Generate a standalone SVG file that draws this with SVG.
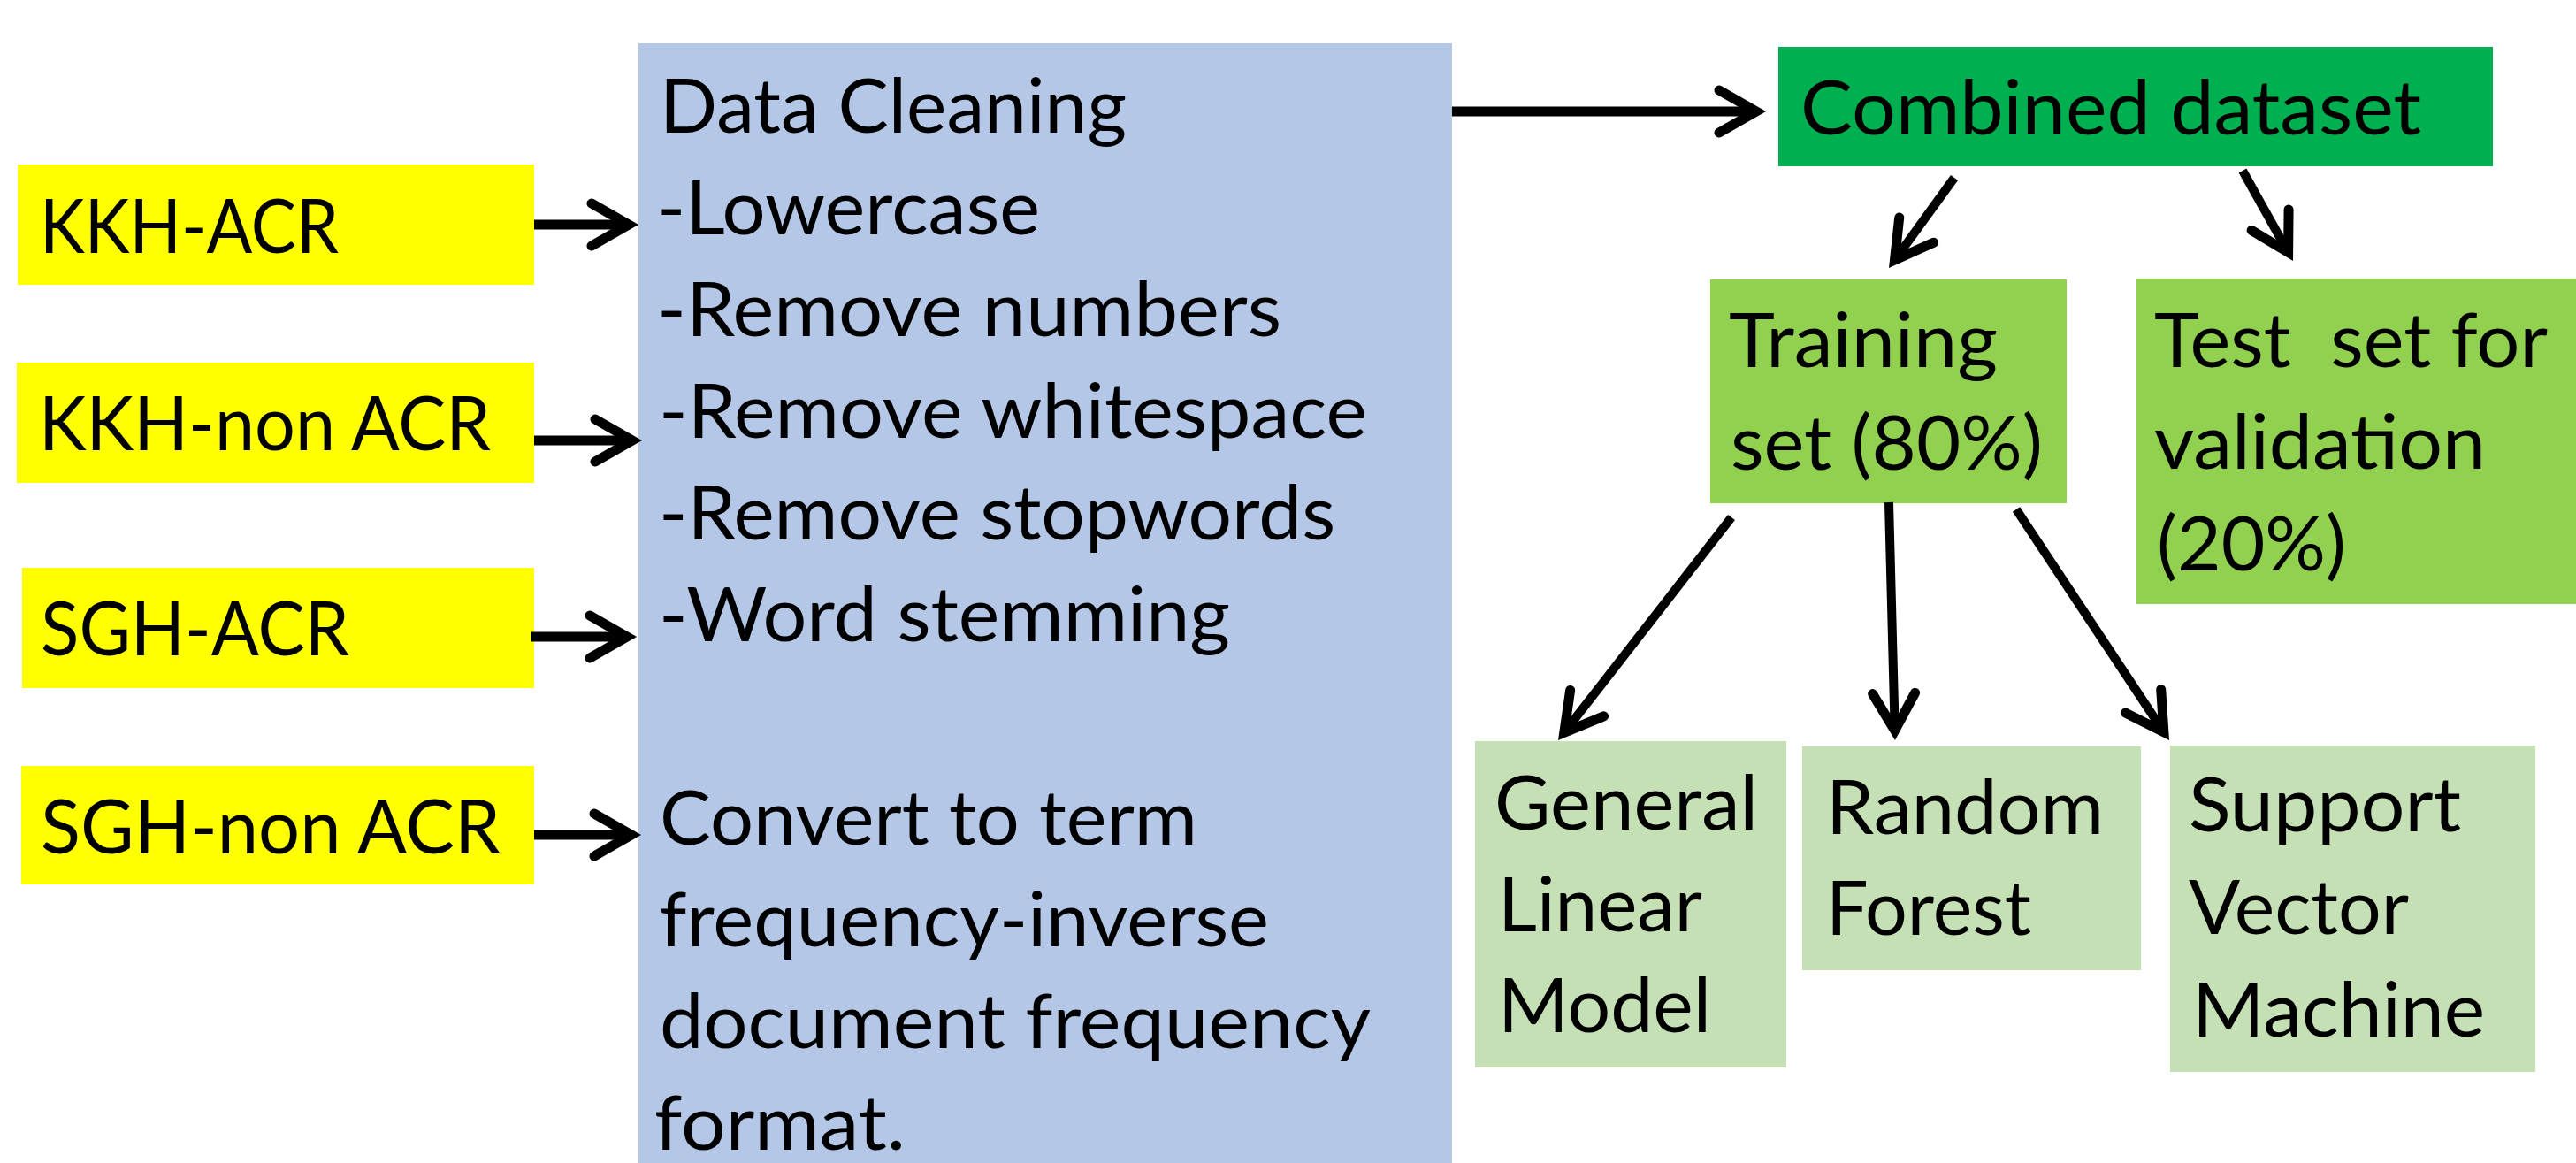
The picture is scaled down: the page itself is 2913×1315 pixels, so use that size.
<svg xmlns="http://www.w3.org/2000/svg" width="2913" height="1315" viewBox="0 0 2913 1315">
<style>
text{font-family:Lato,"Open Sans","Liberation Sans",sans-serif;font-size:86px;fill:#000}
.y{fill:#FFFF00}.b{fill:#B4C7E7}.g1{fill:#00B050}.g2{fill:#92D050}.g3{fill:#C5E0B4}
.c{fill:none;stroke:#000;stroke-width:11}
.t{fill:none;stroke:#000;stroke-width:10}
</style>
<defs>
<marker id="ah" markerUnits="userSpaceOnUse" orient="auto" refX="0" refY="0" markerWidth="120" markerHeight="120" viewBox="-60 -60 120 120" overflow="visible">
<path d="M-42 -24 L0 0 L-42 24" fill="none" stroke="#000" stroke-width="11" stroke-linecap="round" stroke-linejoin="miter"/>
</marker>
</defs>
<rect width="2913" height="1315" fill="#fff"/>
<g id="kkh-acr"><rect class="y" x="20" y="186" width="584" height="136"/><text x="45" y="286" textLength="338" lengthAdjust="spacingAndGlyphs">KKH-ACR</text></g>
<g id="kkh-non-acr"><rect class="y" x="19" y="410" width="585" height="136"/><text x="44" y="509" textLength="511" lengthAdjust="spacingAndGlyphs">KKH-non ACR</text></g>
<g id="sgh-acr"><rect class="y" x="25" y="642" width="579" height="136"/><text x="46" y="741" textLength="349" lengthAdjust="spacingAndGlyphs">SGH-ACR</text></g>
<g id="sgh-non-acr"><rect class="y" x="24" y="866" width="580" height="134"/><text x="46" y="965" textLength="520" lengthAdjust="spacingAndGlyphs">SGH-non ACR</text></g>
<g id="cleaning"><rect class="b" x="722" y="49" width="920" height="1266"/>
<text x="746" y="150" textLength="528" lengthAdjust="spacingAndGlyphs">Data Cleaning</text>
<text x="743" y="265" textLength="433" lengthAdjust="spacingAndGlyphs">-Lowercase</text>
<text x="743" y="380" textLength="706" lengthAdjust="spacingAndGlyphs">-Remove numbers</text>
<text x="745" y="495" textLength="801" lengthAdjust="spacingAndGlyphs">-Remove whitespace</text>
<text x="745" y="610" textLength="765" lengthAdjust="spacingAndGlyphs">-Remove stopwords</text>
<text x="745" y="725" textLength="646" lengthAdjust="spacingAndGlyphs">-Word stemming</text>
<text x="746" y="955" textLength="608" lengthAdjust="spacingAndGlyphs">Convert to term</text>
<text x="746" y="1070" textLength="689" lengthAdjust="spacingAndGlyphs">frequency-inverse</text>
<text x="746" y="1185" textLength="804" lengthAdjust="spacingAndGlyphs">document frequency</text>
<text x="740" y="1300" textLength="284" lengthAdjust="spacingAndGlyphs">format.</text>
</g>
<g id="combined"><rect class="g1" x="2011" y="53" width="808" height="135"/><text x="2036" y="152" textLength="702" lengthAdjust="spacingAndGlyphs">Combined dataset</text></g>
<g id="training"><rect class="g2" x="1934" y="316" width="403" height="253"/><text x="1955" y="415" textLength="304" lengthAdjust="spacingAndGlyphs">Training</text><text x="1957" y="531" textLength="353" lengthAdjust="spacingAndGlyphs">set (80%)</text></g>
<g id="test"><rect class="g2" x="2416" y="315" width="497" height="368"/><text x="2436" y="415" textLength="445" lengthAdjust="spacingAndGlyphs" xml:space="preserve">Test  set for</text><text x="2436" y="530" textLength="375" lengthAdjust="spacingAndGlyphs">validation</text><text x="2439" y="645" textLength="214" lengthAdjust="spacingAndGlyphs">(20%)</text></g>
<g id="glm"><rect class="g3" x="1668" y="838" width="352" height="369"/><text x="1690" y="938" textLength="298" lengthAdjust="spacingAndGlyphs">General</text><text x="1694" y="1053" textLength="231" lengthAdjust="spacingAndGlyphs">Linear</text><text x="1694" y="1167" textLength="241" lengthAdjust="spacingAndGlyphs">Model</text></g>
<g id="rf"><rect class="g3" x="2038" y="844" width="383" height="253"/><text x="2065" y="943" textLength="314" lengthAdjust="spacingAndGlyphs">Random</text><text x="2065" y="1057" textLength="232" lengthAdjust="spacingAndGlyphs">Forest</text></g>
<g id="svm"><rect class="g3" x="2454" y="843" width="413" height="369"/><text x="2475" y="940" textLength="308" lengthAdjust="spacingAndGlyphs">Support</text><text x="2475" y="1056" textLength="249" lengthAdjust="spacingAndGlyphs">Vector</text><text x="2479" y="1172" textLength="331" lengthAdjust="spacingAndGlyphs">Machine</text></g>
<g id="connectors">
<path class="c" d="M604 254 H711" marker-end="url(#ah)"/>
<path class="c" d="M604 498 H715" marker-end="url(#ah)"/>
<path class="c" d="M600 720 H709" marker-end="url(#ah)"/>
<path class="c" d="M604 944 H714" marker-end="url(#ah)"/>
<path class="c" d="M1642 126 H1986" marker-end="url(#ah)"/>
<path class="t" d="M2210 201 L2142.5 294.1" marker-end="url(#ah)"/>
<path class="t" d="M2536 193 L2587.6 285.4" marker-end="url(#ah)"/>
<path class="t" d="M1958 585 L1768.8 828.3" marker-end="url(#ah)"/>
<path class="t" d="M2136 568 L2142.7 826" marker-end="url(#ah)"/>
<path class="t" d="M2280 576 L2446.9 827.8" marker-end="url(#ah)"/>
</g>
</svg>
